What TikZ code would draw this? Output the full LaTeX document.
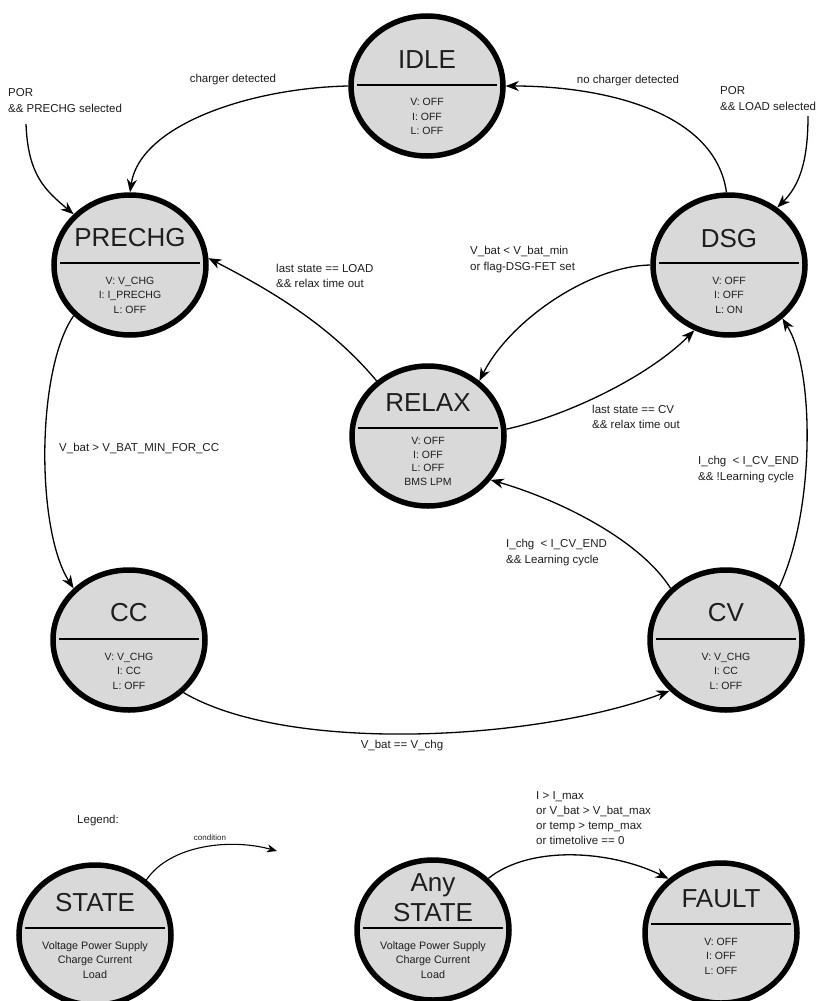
\documentclass[tikz,border=0pt]{standalone}
\usepackage{fontspec}
\setmainfont{Liberation Sans}
\usetikzlibrary{arrows.meta,shapes.geometric}
\definecolor{stategray}{RGB}{217,217,217}
\definecolor{txt}{RGB}{30,30,30}
\begin{document}
\begin{tikzpicture}[x=1pt,y=-1pt,
  statenode/.style={ellipse, draw=black, line width=5.5pt, fill=stategray, minimum width=152pt, minimum height=140pt, inner sep=0pt},
  titletext/.style={font=\fontsize{26}{30}\selectfont, inner sep=0pt, text=txt, align=center},
  bodytext/.style={font=\fontsize{10.5}{14.5}\selectfont, align=center, inner sep=0pt, text=txt},
  divider/.style={line width=1.3pt},
  lbl/.style={font=\fontsize{11.5}{15.2}\selectfont, align=left, inner sep=0pt, text=txt},
  edge/.style={line width=1.3pt, -{Stealth[length=13pt,width=10pt,inset=4pt]}},
  smalledge/.style={line width=1.1pt, -{Stealth[length=10pt,width=8pt,inset=3pt]}},
]
\useasboundingbox (0,0) rectangle (825,1001);

% ---------- states ----------
\node[statenode] (idle) at (427,86) {};
\draw[divider] (357,85) -- (497,85);
\node[titletext] (idleT) at (427,60) {IDLE};
\node[bodytext] (idleB) at (427,116.5) {V: OFF\\I: OFF\\L: OFF};

\node[statenode] (prechg) at (130,265) {};
\draw[divider] (60,263) -- (200,263);
\node[titletext] (prechgT) at (130,238) {PRECHG};
\node[bodytext] (prechgB) at (130,295) {V: V\_CHG\\I: I\_PRECHG\\L: OFF};

\node[statenode] (dsg) at (729,265) {};
\draw[divider] (659,263) -- (799,263);
\node[titletext] (dsgT) at (729,239) {DSG};
\node[bodytext] (dsgB) at (729,295) {V: OFF\\I: OFF\\L: ON};

\node[statenode] (relax) at (428,436) {};
\draw[divider] (358,428) -- (498,428);
\node[titletext] (relaxT) at (428,403) {RELAX};
\node[bodytext, font=\fontsize{10.5}{13.7}\selectfont] (relaxB) at (428,461.5) {V: OFF\\I: OFF\\L: OFF\\BMS LPM};

\node[statenode] (cc) at (129,640) {};
\draw[divider] (59,639) -- (199,639);
\node[titletext] (ccT) at (129,613) {CC};
\node[bodytext] (ccB) at (129,671) {V: V\_CHG\\I: CC\\L: OFF};

\node[statenode] (cv) at (726,640) {};
\draw[divider] (656,639) -- (796,639);
\node[titletext] (cvT) at (726,613) {CV};
\node[bodytext] (cvB) at (726,671) {V: V\_CHG\\I: CC\\L: OFF};

% ---------- legend / fault ----------
\node[statenode] (state) at (95,935) {};
\draw[divider] (25,928) -- (165,928);
\node[titletext] (stateT) at (95,903) {STATE};
\node[bodytext, font=\fontsize{10.8}{14.5}\selectfont] (stateB) at (95,960) {Voltage Power Supply\\Charge Current\\Load};

\node[statenode] (any) at (433,930) {};
\draw[divider] (363,928) -- (503,928);
\node[titletext] (anyT) at (433,898) {Any\\STATE};
\node[bodytext, font=\fontsize{10.8}{14.5}\selectfont] (anyB) at (433,960) {Voltage Power Supply\\Charge Current\\Load};

\node[statenode] (fault) at (721,933) {};
\draw[divider] (651,924) -- (791,924);
\node[titletext] (faultT) at (721,899) {FAULT};
\node[bodytext] (faultB) at (721,956) {V: OFF\\I: OFF\\L: OFF};

% ---------- free ends ----------
\coordinate (porPs) at (26,124);
\coordinate (porLs) at (808,116);
\coordinate (legEnd) at (277,851);

% ---------- connectors ----------
\draw[edge] (idle.west) .. controls (250,88) and (140,125) .. (prechg.north);
\draw[edge] (dsg.92) .. controls (715,110) and (600,86) .. (idle.east);
\draw[edge] (porPs) .. controls (28,175) and (45,190) .. (prechg.138);
\draw[edge] (porLs) .. controls (808,160) and (800,185) .. (dsg.50);
\draw[edge] (prechg.222) .. controls (36,370) and (36,530) .. (cc.137);
\draw[edge] (cc.316) .. controls (290,755) and (540,740) .. (cv.222);
\draw[edge] (cv.45) .. controls (815,510) and (815,370) .. (dsg.315);
\draw[edge] (cv.137) .. controls (640,540) and (560,500) .. (relax.325);
\draw[edge] (relax.133) .. controls (330,325) and (270,290) .. (prechg.5);
\draw[edge] (dsg.west) .. controls (590,266) and (510,320) .. (relax.47);
\draw[edge] (relax.5) .. controls (570,415) and (650,375) .. (dsg.242);
\draw[smalledge] (state.47) .. controls (170,845) and (230,838) .. (legEnd);
\draw[edge] (any.43) .. controls (530,845) and (610,850) .. (fault.134);

% ---------- labels ----------
\node[lbl] (l1) at (233,80) {charger detected};
\node[lbl] (l2) at (628,81) {no charger detected};
\node[lbl, anchor=west] (l3) at (8,100.5) {POR\\\&\& PRECHG selected};
\node[lbl, anchor=west] (l4) at (720,98.5) {POR\\\&\& LOAD selected};
\node[lbl, anchor=west] (l5) at (59,448) {V\_bat > V\_BAT\_MIN\_FOR\_CC};
\node[lbl] (l6) at (402,746) {V\_bat == V\_chg};
\node[lbl, anchor=west] (l7) at (698,469.5) {I\_chg\ \ < I\_CV\_END\\\&\& !Learning cycle};
\node[lbl, anchor=west] (l8) at (506,552.5) {I\_chg\ \ < I\_CV\_END\\\&\& Learning cycle};
\node[lbl, anchor=west] (l9) at (276,275.5) {last state == LOAD\\\&\& relax time out};
\node[lbl, anchor=west] (l10) at (470,259.5) {V\_bat < V\_bat\_min\\or flag-DSG-FET set};
\node[lbl, anchor=west] (l11) at (592,416.5) {last state == CV\\\&\& relax time out};
\node[lbl] (l12) at (98,821) {Legend:};
\node[lbl, font=\fontsize{8}{10}\selectfont] (l13) at (210,838) {condition};
\node[lbl, anchor=west] (l14) at (536,818) {I > I\_max\\or V\_bat > V\_bat\_max\\or temp > temp\_max\\or timetolive == 0};
\end{tikzpicture}
\end{document}
